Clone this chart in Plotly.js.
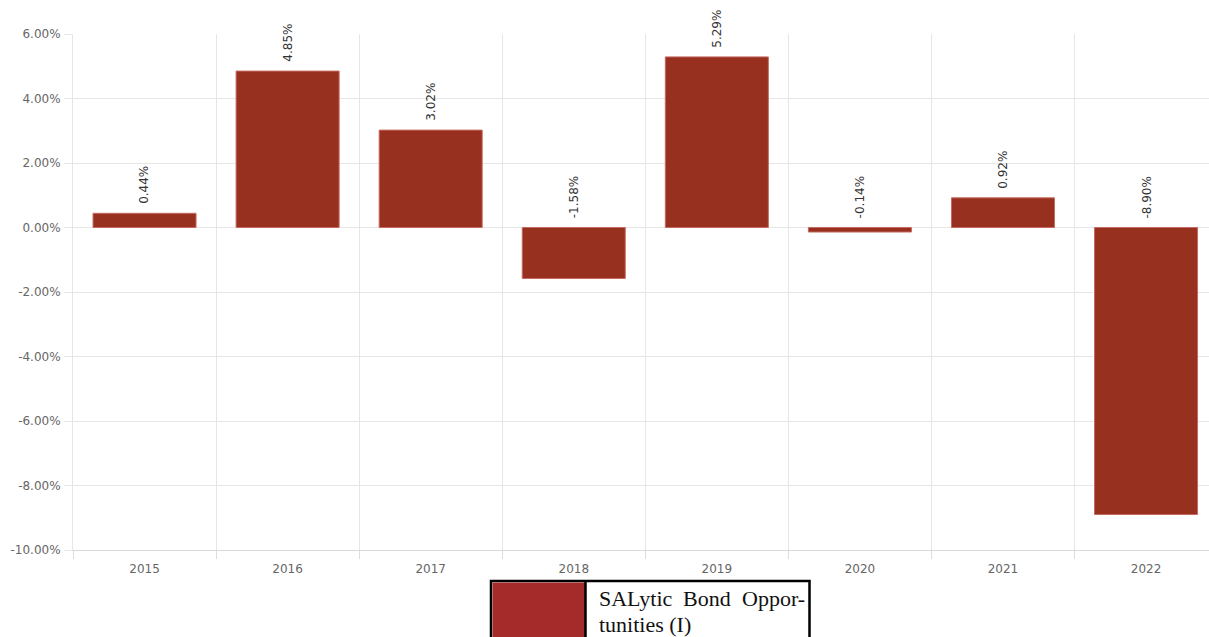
<!DOCTYPE html>
<html>
<head>
<meta charset="utf-8">
<script src="https://cdn.plot.ly/plotly-3.0.1.min.js"></script>
<style>html,body{margin:0;padding:0;background:#fff;}#chart{width:1209px;height:637px;}</style>
</head>
<body>
<div id="chart"></div>
<script>
const years = ['2015','2016','2017','2018','2019','2020','2021','2022'];
const returns = [0.44, 4.85, 3.02, -1.58, 5.29, -0.14, 0.92, -8.90];
const yTickVals = [6, 4, 2, 0, -2, -4, -6, -8, -10];
const yTickText = ['6.00%', '4.00%', '2.00%', '0.00%', '-2.00%', '-4.00%', '-6.00%', '-8.00%', '-10.00%'];
const seriesName = 'SALytic Bond Opportunities (I)';
const legendLine1Words = ['SALytic', 'Bond', 'Oppor-'];
const legendLine2 = 'tunities (I)';

const FONT = 'DejaVu Sans, Verdana, sans-serif';
const SERIF = 'Liberation Serif, Times New Roman, serif';

const trace = {
  type: 'bar',
  x: years,
  y: returns,
  name: seriesName,
  width: 0.72,
  marker: {color: '#97301F', line: {color: '#C56A60', width: 1}},
  hoverinfo: 'x+y',
  showlegend: false
};

const annotations = years.map((yr, i) => ({
  x: i,
  y: Math.max(returns[i], 0),
  xref: 'x', yref: 'y',
  text: returns[i].toFixed(2) + '%',
  textangle: -90,
  showarrow: false,
  xanchor: 'center', yanchor: 'bottom',
  yshift: 7,
  font: {family: FONT, size: 12, color: '#333'}
}));

const px = v => (v - 73) / 1136;
const py = v => (550 - v) / 516;

// legend text (justified first line)
const wordX = [597, 707, 807];
const wordAnchor = ['left', 'center', 'right'];
legendLine1Words.forEach((w, i) => {
  annotations.push({
    xref: 'paper', yref: 'paper',
    x: px(wordX[i]), y: py(598.5),
    xanchor: wordAnchor[i], yanchor: 'middle',
    showarrow: false, text: w,
    font: {family: SERIF, size: 22, color: '#111'}
  });
});
annotations.push({
  xref: 'paper', yref: 'paper',
  x: px(597), y: py(624.5),
  xanchor: 'left', yanchor: 'middle',
  showarrow: false, text: legendLine2,
  font: {family: SERIF, size: 22, color: '#111'}
});

const shapes = [
  {type: 'rect', xref: 'paper', yref: 'paper', x0: px(491), x1: px(809.5), y0: py(650), y1: py(581),
   line: {color: '#000', width: 2.5}, fillcolor: '#fff', layer: 'above'},
  {type: 'rect', xref: 'paper', yref: 'paper', x0: px(492.5), x1: px(585), y0: py(650), y1: py(582.5),
   line: {color: '#000', width: 0}, fillcolor: '#A52A2A', layer: 'above'},
  {type: 'line', xref: 'paper', yref: 'paper', x0: px(585.5), x1: px(585.5), y0: py(650), y1: py(581),
   line: {color: '#000', width: 2.5}, layer: 'above'}
];

const layout = {
  width: 1209, height: 637,
  margin: {l: 73, r: 0, t: 34, b: 87, pad: 0},
  paper_bgcolor: '#fff', plot_bgcolor: '#fff',
  showlegend: false,
  font: {family: FONT, size: 12, color: '#666'},
  xaxis: {
    type: 'category',
    range: [-0.5, 7.44],
    autorange: false,
    tickson: 'boundaries',
    tickangle: 0,
    ticks: 'outside', ticklen: 8, tickcolor: '#dddddd', tickwidth: 1,
    ticklabelstandoff: 8,
    showgrid: true, gridcolor: '#e6e6e6', gridwidth: 1,
    showline: true, linecolor: '#d8d8d8', linewidth: 1,
    tickfont: {family: FONT, size: 12, color: '#666'},
    fixedrange: true
  },
  yaxis: {
    range: [-10, 6], autorange: false,
    tickmode: 'array', tickvals: yTickVals, ticktext: yTickText,
    showgrid: true, gridcolor: '#e6e6e6', gridwidth: 1,
    zeroline: true, zerolinecolor: '#e6e6e6', zerolinewidth: 1,
    showline: true, linecolor: '#e6e6e6', linewidth: 1,
    ticks: 'outside', ticklen: 8, tickcolor: '#e6e6e6', tickwidth: 1,
    ticklabelstandoff: 1,
    tickfont: {family: FONT, size: 12, color: '#666'},
    fixedrange: true
  },
  annotations: annotations,
  shapes: shapes
};

Plotly.newPlot('chart', [trace], layout, {displayModeBar: false, staticPlot: true});
</script>
</body>
</html>
